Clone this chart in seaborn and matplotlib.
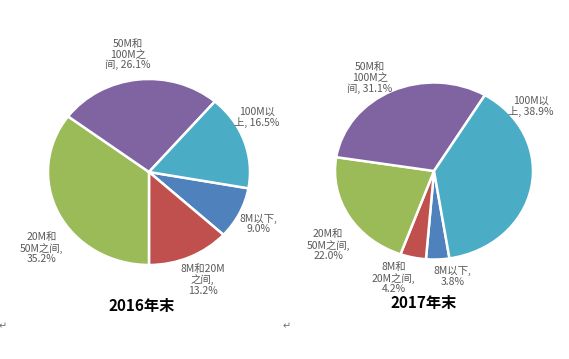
import seaborn as sns
import matplotlib.pyplot as plt

# data (percent of users by access speed)
categories = ['8M以下', '8M和20M之间', '20M和50M之间', '50M和100M之间', '100M以上']
share_2016 = [9.0, 13.2, 35.2, 26.1, 16.5]
share_2017 = [3.8, 4.2, 22.0, 31.1, 38.9]
# label text as wrapped in the picture
labels_2016 = ['8M以下,\n{:.1f}%', '8M和20M\n之间,\n{:.1f}%', '20M和\n50M之间,\n{:.1f}%',
               '50M和\n100M之\n间, {:.1f}%', '100M以\n上, {:.1f}%']
labels_2017 = ['8M以下,\n{:.1f}%', '8M和\n20M之间,\n{:.1f}%', '20M和\n50M之间,\n{:.1f}%',
               '50M和\n100M之\n间, {:.1f}%', '100M以\n上, {:.1f}%']
titles = ['2016年末', '2017年末']

sns.set_style("white")
plt.rcParams['font.family'] = ['Noto Sans CJK SC', 'DejaVu Sans']

colors = ['#4F81BD', '#C0504D', '#9BBB59', '#8064A2', '#4BACC6']

W, H = 569, 359
fig = plt.figure(figsize=(W / 100, H / 100), dpi=100)

# (center x, center y from top, width, height) in pixels, start angle, label spots
layouts = [
    dict(c=(149, 172), size=(202, 186), start=-10.1,
         spots=[(1.08, -0.56), (0.53, -1.16), (-1.06, -0.82), (-0.21, 1.26), (1.07, 0.59)],
         title=(-0.07, -1.44)),
    dict(c=(434, 171), size=(198, 177), start=-81.0,
         spots=[(0.19, -1.19), (-0.41, -1.21), (-1.07, -0.84), (-0.65, 1.05), (0.98, 0.73)],
         title=(-0.10, -1.49)),
]

for lay, vals, labs, ttl in zip(layouts, [share_2016, share_2017], [labels_2016, labels_2017], titles):
    cx, cy = lay['c']
    w, h = lay['size']
    ax = fig.add_axes([(cx - w / 2) / W, (H - cy - h / 2) / H, w / W, h / H])
    ax.pie(vals, colors=colors, startangle=lay['start'], counterclock=False,
           wedgeprops=dict(edgecolor='white', linewidth=1.8))
    ax.set_aspect('auto')
    ax.set_xlim(-1, 1)
    ax.set_ylim(-1, 1)
    ax.axis('off')
    for (x, y), lab, v in zip(lay['spots'], labs, vals):
        ax.text(x, y, lab.format(v), ha='center', va='center', multialignment='center',
                fontsize=7.5, color='#595959', linespacing=1.05)
    ax.text(lay['title'][0], lay['title'][1], ttl, ha='center', va='center',
            fontsize=11, fontweight='bold', color='black')

# stray paragraph marks from the source document
for px, py in [(287, 326), (3, 326)]:
    fig.text(px / W, 1 - py / H, '↵', fontsize=7, color='#707070', ha='center', va='center')

fig.savefig('out.png', dpi=100)
